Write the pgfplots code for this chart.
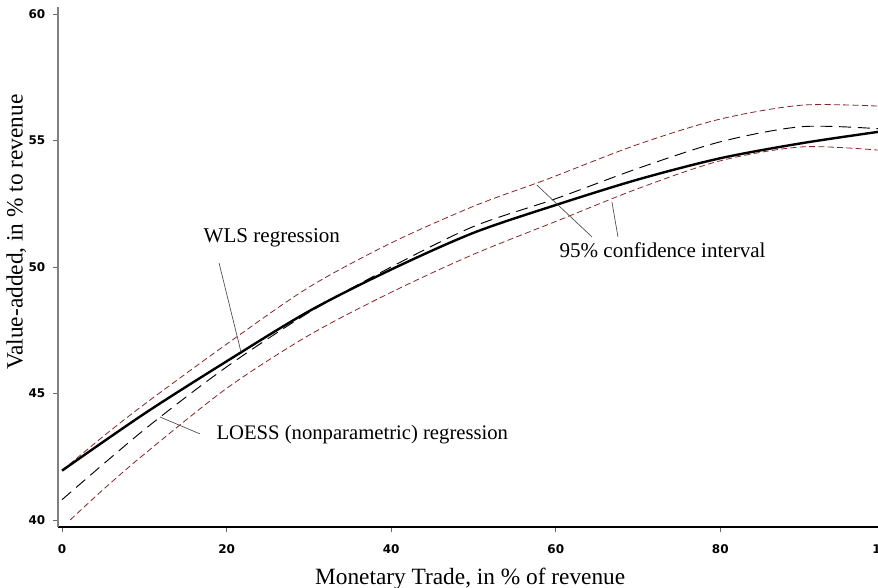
\documentclass[border=0pt]{standalone}
\usepackage{pgfplots}
\pgfplotsset{compat=1.18}
\usepackage{fontspec}
\setmainfont{Liberation Serif}
\newfontfamily\tickfont{DejaVu Sans}

\definecolor{cired}{RGB}{135,35,35}

\begin{document}
\begin{tikzpicture}
\begin{axis}[
  at={(43.5pt,45.75pt)}, anchor=south west,
  scale only axis, width=623.25pt, height=390pt,
  xmin=-0.49, xmax=100.5, ymin=39.72, ymax=60.28,
  axis lines=left, axis line style={-},
  x axis line style={black, line width=0.9pt},
  y axis line style={gray, line width=0.9pt},
  xtick={0,20,...,100}, ytick={40,45,...,60},
  tick align=outside, major tick length=4pt,
  tick style={gray!80!black, line width=0.6pt},
  /pgf/number format/assume math mode=true,
  tick label style={font=\tickfont\bfseries\fontsize{9}{10}\selectfont},
  xticklabel style={yshift=-6pt},
  yticklabel style={xshift=-2pt},
  xlabel={Monetary Trade, in \% of revenue},
  ylabel={Value-added, in \% to revenue},
  label style={font=\fontsize{17.5}{20}\selectfont},
  xlabel style={at={(axis description cs:0.496,-0.1)}, anchor=center},
  ylabel style={at={(axis description cs:-0.05,0.567)}, anchor=center},
  clip=true,
]
% 95% confidence interval, upper
\addplot[cired, line width=0.6pt, dash pattern=on 4.5pt off 2.5pt, smooth] coordinates {
  (0,41.95) (5,43.3) (10,44.57) (20,46.95) (30,49.2) (40,50.95) (50,52.4)
  (57.7,53.32) (60,53.6) (70,54.85) (80,55.85) (90,56.4) (100,56.35)};
% 95% confidence interval, lower
\addplot[cired, line width=0.6pt, dash pattern=on 4.5pt off 2.5pt, smooth] coordinates {
  (1,40.0) (5,41.2) (10,42.6) (20,45.2) (30,47.3) (40,49.0) (50,50.5)
  (60,51.8) (70,53.1) (80,54.2) (90,54.75) (100,54.6)};
% LOESS
\addplot[black, line width=0.7pt, dash pattern=on 9pt off 5pt, smooth] coordinates {
  (0,40.8) (10,43.57) (20,46.05) (30,48.2) (40,50.0) (50,51.6)
  (60,52.7) (70,53.9) (80,54.95) (90,55.55) (100,55.45)};
% WLS
\addplot[black, line width=1.8pt, smooth] coordinates {
  (0,41.95) (10,44.2) (20,46.27) (30,48.25) (40,49.9) (50,51.35)
  (60,52.45) (70,53.46) (80,54.3) (90,54.9) (100,55.38)};

% annotations
\node[font=\fontsize{15.8}{18}\selectfont] at (axis cs:25.5,51.15) {WLS regression};
\draw[gray!60!black, line width=0.5pt] (axis cs:19.08,50.16) -- (axis cs:21.75,46.64);
\node[font=\fontsize{15.5}{18}\selectfont, anchor=west] at (axis cs:18.2,43.36) {LOESS (nonparametric) regression};
\draw[gray!60!black, line width=0.5pt] (axis cs:11.9,44.07) -- (axis cs:16.77,43.4);
\node[font=\fontsize{15.8}{18}\selectfont, anchor=west] at (axis cs:59.9,50.67) {95\% confidence interval};
\draw[gray!60!black, line width=0.5pt] (axis cs:57.7,53.24) -- (axis cs:64.4,51.19);
\draw[gray!60!black, line width=0.5pt] (axis cs:66.83,52.57) -- (axis cs:67.56,51.19);
\end{axis}
\pgfresetboundingbox
\useasboundingbox (0,0) rectangle (658.5pt,441pt);
\end{tikzpicture}
\end{document}
